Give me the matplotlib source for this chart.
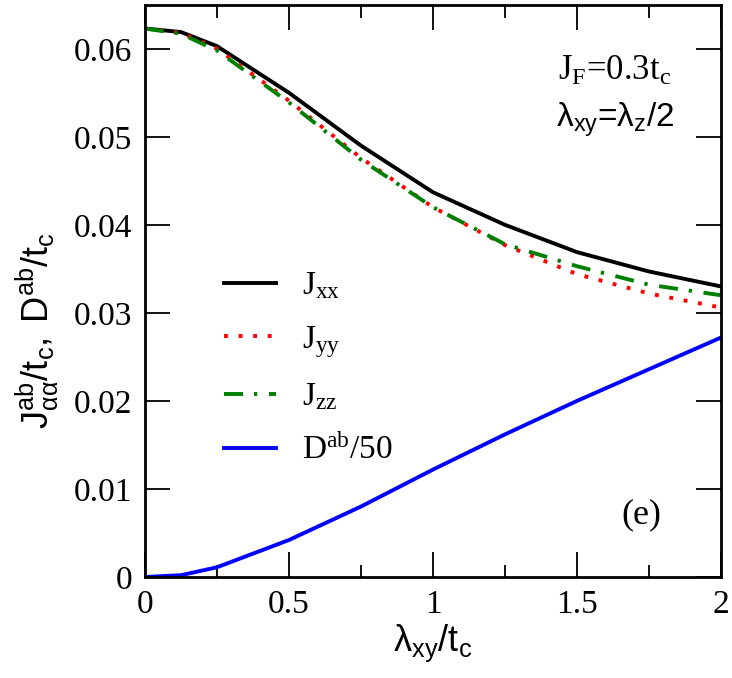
import numpy as np
import matplotlib.pyplot as plt
from matplotlib.ticker import MultipleLocator

# values
lam = [0, 0.125, 0.25, 0.5, 0.75, 1.0, 1.25, 1.5, 1.75, 2.0]
Jxx = [0.0623, 0.0619, 0.0603, 0.0550, 0.0490, 0.0437, 0.0400, 0.0369, 0.0347, 0.0330]
Jyy = [0.0623, 0.0618, 0.0600, 0.0541, 0.0476, 0.0420, 0.0377, 0.0344, 0.0322, 0.0306]
Jzz = [0.0623, 0.0617, 0.0598, 0.0539, 0.0474, 0.0420, 0.0378, 0.0353, 0.0332, 0.0320]
Dab = [0.0, 0.0002, 0.0011, 0.0042, 0.0080, 0.0122, 0.0162, 0.0200, 0.0236, 0.0272]
xtick_labels = ['0', '0.5', '1', '1.5', '2']
ytick_labels = ['0', '0.01', '0.02', '0.03', '0.04', '0.05', '0.06']

plt.rcParams['mathtext.fontset'] = 'custom'
plt.rcParams['mathtext.rm'] = 'Liberation Serif'
plt.rcParams['mathtext.it'] = 'Liberation Serif:italic'
plt.rcParams['mathtext.sf'] = 'Liberation Sans'
plt.rcParams['font.family'] = 'Liberation Serif'

fs = 24
fig = plt.figure(figsize=(7.32, 6.78), dpi=100)
ax = fig.add_axes([0.198, 0.149, 0.787, 0.844])

lw = 2.8
ax.plot(lam, Jxx, color='black', lw=lw, label=r'J$_\mathrm{xx}$')
ax.plot(lam, Jyy, color='red', lw=lw, ls=(0, (1, 2.75)), dash_capstyle='butt',
        label=r'J$_\mathrm{yy}$')
ax.plot(lam, Jzz, color='green', lw=lw, ls=(0, (4.9, 2.8, 0.85, 3.0)), dash_capstyle='butt',
        label=r'J$_\mathrm{zz}$')
ax.plot(lam, Dab, color='blue', lw=lw, label=r'D$^\mathrm{ab}$/50')

ax.set_xlim(0, 2)
ax.set_ylim(0, 0.065)
ax.set_xticks([0, 0.5, 1, 1.5, 2])
ax.set_xticklabels(xtick_labels)
ax.xaxis.set_minor_locator(MultipleLocator(0.25))
ax.set_yticks([0, 0.01, 0.02, 0.03, 0.04, 0.05, 0.06])
ax.set_yticklabels(ytick_labels)
ax.tick_params(which='both', direction='in', top=True, right=True, labelsize=fs, width=1.3)
ax.tick_params(which='major', length=18, pad=9)
ax.tick_params(which='minor', length=9)
for s in ax.spines.values():
    s.set_linewidth(2)

ax.set_xlabel(r'$\mathsf{\lambda_{xy}/t_c}$', fontsize=26, labelpad=2)
ax.set_ylabel(r'$\mathsf{J^{ab}_{\alpha\alpha}/t_c,\ D^{ab}/t_c}$', fontsize=26)
ax.yaxis.set_label_coords(-0.145, 0.43)

ax.text(0.816, 0.869, r'J$_\mathrm{F}$=0.3t$_\mathrm{c}$', transform=ax.transAxes,
        fontsize=25, ha='center', va='baseline')
ax.text(0.816, 0.787, r'$\mathsf{\lambda_{xy}}$=$\mathsf{\lambda_z}$/2', transform=ax.transAxes,
        fontsize=fs, ha='center', va='baseline', family='Liberation Sans')
ax.text(0.861, 0.108, '(e)', transform=ax.transAxes, fontsize=26, ha='center', va='center')

ax.legend(loc='upper left', bbox_to_anchor=(0.137, 0.535), frameon=False, fontsize=fs,
          handlelength=1.55, handletextpad=0.8, labelspacing=0.66, borderpad=0,
          borderaxespad=0)

fig.savefig('out.png', dpi=100)
